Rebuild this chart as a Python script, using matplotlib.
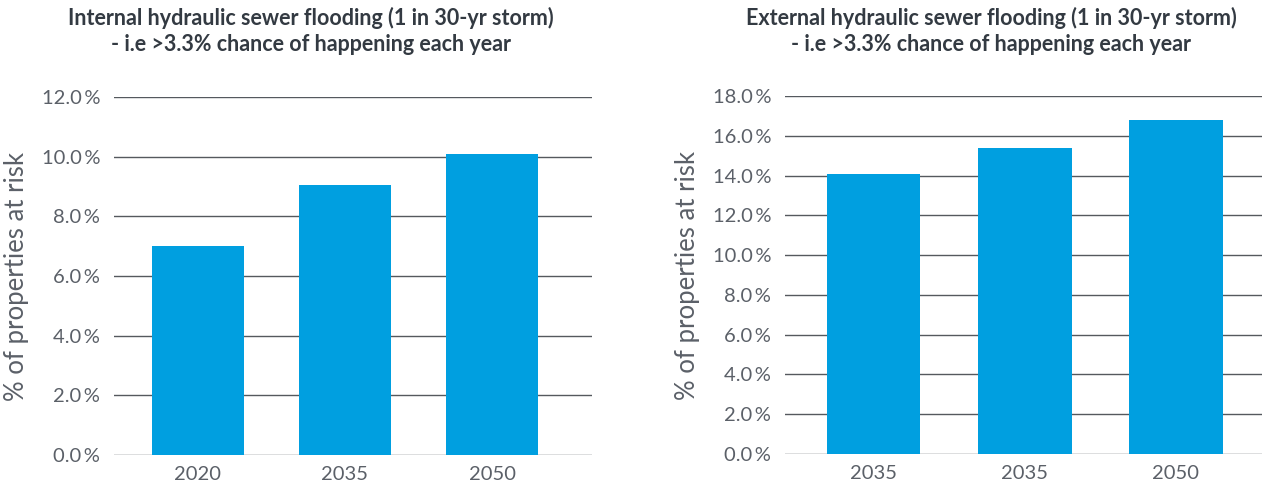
import matplotlib.pyplot as plt
from matplotlib.ticker import FuncFormatter

# internal flooding, % of properties at risk
internal_years = ["2020", "2035", "2050"]
internal_risk = [7.0, 9.05, 10.1]

# external flooding, % of properties at risk
external_years = ["2035", "2035", "2050"]
external_risk = [14.1, 15.4, 16.8]
external_base = [0.0, -0.15, 0.0]

internal_title = "Internal hydraulic sewer flooding (1 in 30-yr storm)\n- i.e >3.3% chance of happening each year"
external_title = "External hydraulic sewer flooding (1 in 30-yr storm)\n- i.e >3.3% chance of happening each year"

BLUE = "#009fe0"
TEXT = "#5b6068"
TITLE = "#333a42"
GRID = "#55595e"

plt.rcParams["font.family"] = ["Lato", "DejaVu Sans"]

fig = plt.figure(figsize=(12.71, 4.88), dpi=100)


def pct(v, _):
    return "%.1f\u2009%%" % v


def draw_panel(rect, years, values, base, ymax, step, xlim, title, title_x):
    ax = fig.add_axes(rect)
    heights = [v - b for v, b in zip(values, base)]
    ax.bar(range(len(years)), heights, bottom=base, width=0.62, color=BLUE, zorder=3)
    ax.set_xticks(range(len(years)))
    ax.set_xticklabels(years)
    ax.set_xlim(*xlim)
    ax.set_ylim(0, ymax)
    ax.set_yticks([i * step for i in range(int(round(ymax / step)) + 1)])
    ax.yaxis.set_major_formatter(FuncFormatter(pct))
    ax.grid(axis="y", color=GRID, linewidth=1.0, zorder=0)
    for s in ax.spines.values():
        s.set_visible(False)
    ax.tick_params(axis="both", length=0, labelsize=14.5, colors=TEXT)
    ax.tick_params(axis="y", pad=10)
    ax.tick_params(axis="x", pad=8)
    ax.set_ylabel("% of properties at risk", fontsize=18.5, color=TEXT, labelpad=9)
    fig.text(title_x, 0.985, title, ha="center", va="top", fontsize=15.5,
             fontweight="bold", color=TITLE, linespacing=1.3)
    return ax


draw_panel([114 / 1271, 33 / 488, 478 / 1271, 358 / 488],
           internal_years, internal_risk, [0, 0, 0], 12.0, 2.0, (-0.571, 2.68),
           internal_title, 311 / 1271)
draw_panel([785 / 1271, 34 / 488, 477 / 1271, 358 / 488],
           external_years, external_risk, external_base, 18.0, 2.0, (-0.586, 2.57),
           external_title, 991 / 1271)

fig.savefig("out.png", dpi=100)
